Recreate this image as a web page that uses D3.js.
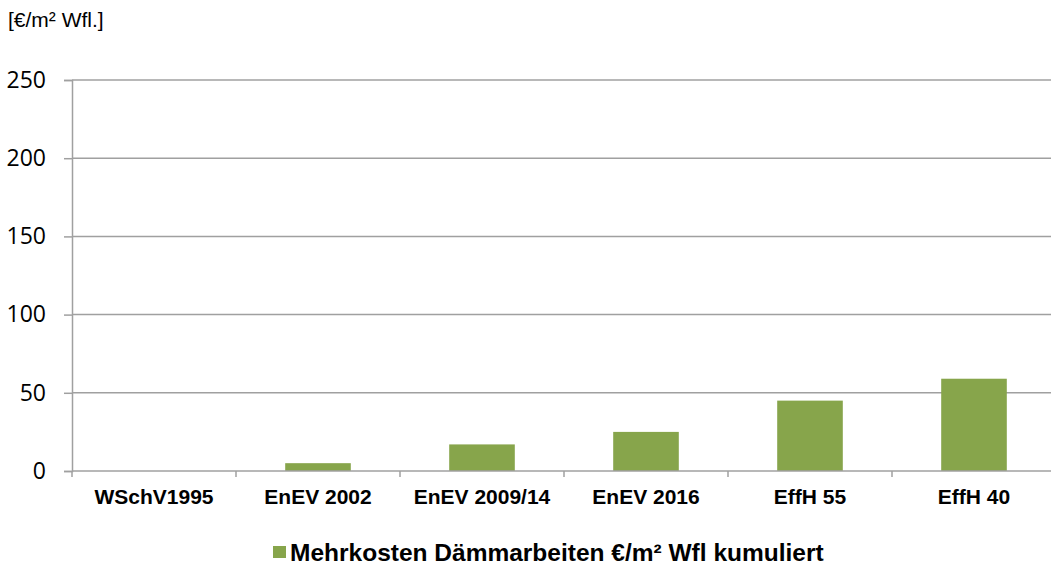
<!DOCTYPE html>
<html><head><meta charset="utf-8">
<script src="https://cdn.jsdelivr.net/npm/d3@7"></script>
<style>body{margin:0;background:#fff}svg{display:block}</style>
</head><body><svg id="c" width="1051" height="565"></svg>
<script>
const categories = ["WSchV1995","EnEV 2002","EnEV 2009/14","EnEV 2016","EffH 55","EffH 40"];
const values = [0, 5, 17, 25, 45, 59];
const yTicks = [0, 50, 100, 150, 200, 250];
const seriesName = "Mehrkosten Dämmarbeiten €/m² Wfl kumuliert";
const unitLabel = "[€/m² Wfl.]";

const svg = d3.select("#c");
const m = {l:72, r:-5, t:80, b:94};
const W = 1051, H = 565;
const x = d3.scaleBand().domain(categories).range([m.l, W - m.r]).paddingInner(0.6).paddingOuter(0.3);
const xb = d3.scaleBand().domain(categories).range([m.l, W - m.r]);
const y = d3.scaleLinear().domain([0, 250]).range([H - m.b, m.t]);
const grid = "#a0a0a0";

// gridlines
svg.append("g").selectAll("line").data(yTicks.filter(d=>d>0)).join("line")
  .attr("x1", m.l).attr("x2", W).attr("y1", d=>y(d)).attr("y2", d=>y(d))
  .attr("stroke", grid).attr("stroke-width", 1.5);

// y axis
const ya = svg.append("g").attr("transform", `translate(${m.l},0)`)
  .call(d3.axisLeft(y).tickValues(yTicks).tickSize(8).tickPadding(18));
ya.select(".domain").attr("stroke", grid).attr("stroke-width",1.5);
ya.selectAll(".tick line").attr("stroke", grid).attr("stroke-width",1.5);
ya.selectAll("text").attr("font-family","'Open Sans', sans-serif").attr("font-size",23).attr("fill","#000");

// bars
svg.append("g").selectAll("rect").data(values).join("rect")
  .attr("x", (d,i)=>x(categories[i])).attr("width", x.bandwidth())
  .attr("y", d=>y(d)).attr("height", d=>y(0)-y(d))
  .attr("fill", "#87a54b");

// x axis
const xa = svg.append("g").attr("transform", `translate(0,${y(0)})`)
  .call(d3.axisBottom(xb).tickSize(0).tickPadding(18));
xa.select(".domain").remove();
xa.selectAll("text").attr("font-family","'Liberation Sans', Arial, sans-serif").attr("font-weight","bold").attr("font-size",21).attr("fill","#000");
svg.append("line").attr("x1", m.l).attr("x2", W).attr("y1", y(0)).attr("y2", y(0)).attr("stroke", grid).attr("stroke-width",1.5);
svg.append("g").selectAll("line").data(categories).join("line")
  .attr("x1", d=>xb(d)).attr("x2", d=>xb(d)).attr("y1", y(0)).attr("y2", y(0)+6)
  .attr("stroke", grid).attr("stroke-width",1.5);

// unit label
svg.append("text").attr("x", 8).attr("y", 27).text(unitLabel)
  .attr("font-family","'Liberation Sans', Arial, sans-serif").attr("font-size",21).attr("fill","#000");

// legend
const lg = svg.append("g").attr("transform","translate(273,546)");
lg.append("rect").attr("x",0).attr("y",0).attr("width",13).attr("height",12).attr("fill","#87a54b");
lg.append("text").attr("x",17).attr("y",15).text(seriesName)
  .attr("font-family","'Liberation Sans', Arial, sans-serif").attr("font-weight","bold").attr("font-size",24.5).attr("fill","#000");
</script></body></html>
